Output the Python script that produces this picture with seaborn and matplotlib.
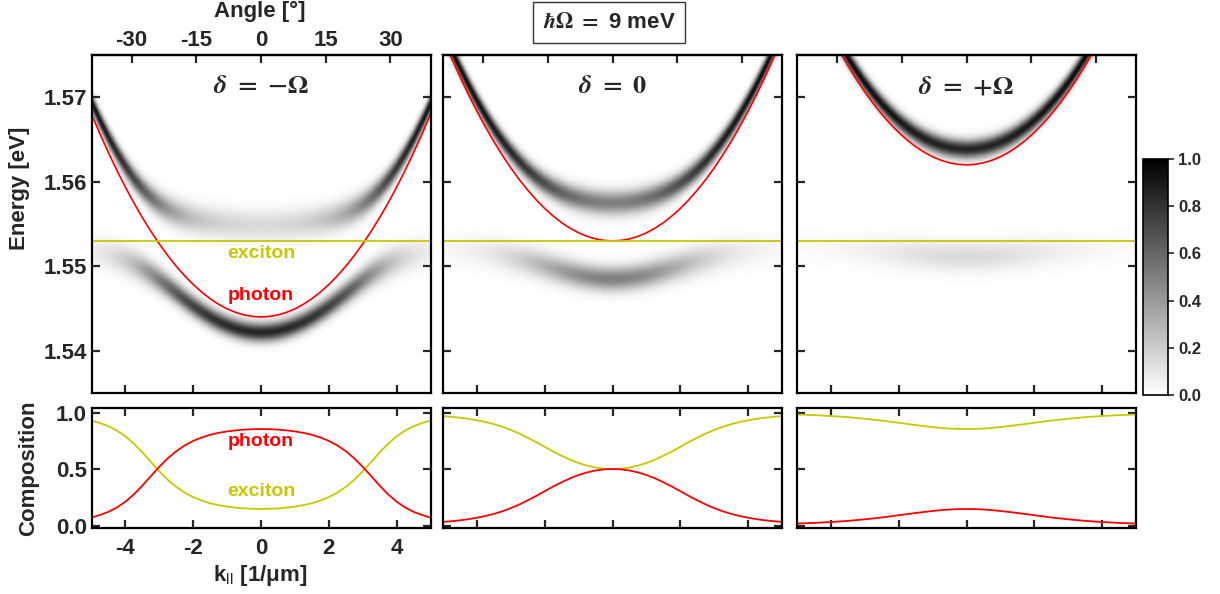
import numpy as np
import matplotlib
matplotlib.use("Agg")
import matplotlib.pyplot as plt
import seaborn as sns

# ---------------- data ----------------
# k grid (1/um) for the right half; all curves are symmetric in k
k_half = [0.0, 0.25, 0.5, 0.75, 1.0, 1.25, 1.5, 1.75, 2.0, 2.25, 2.5,
          2.75, 3.0, 3.25, 3.5, 3.75, 4.0, 4.25, 4.5, 4.75, 5.0]
E_exciton = 1.553  # eV
panel_titles = [r"$\mathbfit{\delta}\ \mathbf{=}\ \mathbf{-\Omega}$",
                r"$\mathbfit{\delta}\ \mathbf{=}\ \mathbf{0}$",
                r"$\mathbfit{\delta}\ \mathbf{=}\ \mathbf{+\Omega}$"]

# photon (cavity) dispersion, eV
photon_neg = [1.54400, 1.54406, 1.54424, 1.54454, 1.54496, 1.54550, 1.54616, 1.54694, 1.54784, 1.54886, 1.55000,
              1.55126, 1.55264, 1.55414, 1.55576, 1.55750, 1.55936, 1.56134, 1.56344, 1.56566, 1.56800]
photon_zero = [1.55300, 1.55306, 1.55324, 1.55354, 1.55396, 1.55450, 1.55516, 1.55594, 1.55684, 1.55786, 1.55900,
               1.56026, 1.56164, 1.56314, 1.56476, 1.56650, 1.56836, 1.57034, 1.57244, 1.57466, 1.57700]
photon_pos = [1.56200, 1.56206, 1.56224, 1.56254, 1.56296, 1.56350, 1.56416, 1.56494, 1.56584, 1.56686, 1.56800,
              1.56926, 1.57064, 1.57214, 1.57376, 1.57550, 1.57736, 1.57934, 1.58144, 1.58366, 1.58600]

# lower / upper polariton branches, eV
lp_neg = [1.54214, 1.54219, 1.54234, 1.54259, 1.54295, 1.54339, 1.54393, 1.54455, 1.54523, 1.54598, 1.54676,
          1.54755, 1.54832, 1.54903, 1.54967, 1.55022, 1.55067, 1.55104, 1.55133, 1.55156, 1.55175]
up_neg = [1.55486, 1.55487, 1.55490, 1.55495, 1.55501, 1.55511, 1.55523, 1.55540, 1.55561, 1.55588, 1.55624,
          1.55671, 1.55732, 1.55811, 1.55909, 1.56028, 1.56169, 1.56331, 1.56511, 1.56710, 1.56925]
lp_zero = [1.54850, 1.54853, 1.54862, 1.54876, 1.54895, 1.54919, 1.54945, 1.54974, 1.55003, 1.55032, 1.55059,
           1.55085, 1.55108, 1.55129, 1.55148, 1.55164, 1.55178, 1.55190, 1.55201, 1.55210, 1.55218]
up_zero = [1.55750, 1.55753, 1.55762, 1.55778, 1.55801, 1.55831, 1.55871, 1.55920, 1.55981, 1.56054, 1.56141,
           1.56241, 1.56356, 1.56485, 1.56628, 1.56786, 1.56958, 1.57144, 1.57343, 1.57556, 1.57782]
lp_pos = [1.55114, 1.55115, 1.55117, 1.55121, 1.55127, 1.55134, 1.55141, 1.55149, 1.55158, 1.55167, 1.55175,
          1.55184, 1.55192, 1.55200, 1.55207, 1.55213, 1.55220, 1.55225, 1.55231, 1.55235, 1.55240]
up_pos = [1.56386, 1.56392, 1.56407, 1.56433, 1.56469, 1.56516, 1.56575, 1.56645, 1.56726, 1.56819, 1.56925,
          1.57042, 1.57172, 1.57315, 1.57469, 1.57637, 1.57817, 1.58009, 1.58214, 1.58431, 1.58610]

# photon fraction of the lower polariton (composition panels)
phot_frac_neg = [0.854, 0.852, 0.849, 0.842, 0.833, 0.820, 0.803, 0.779, 0.749, 0.709, 0.658,
                 0.595, 0.520, 0.437, 0.353, 0.276, 0.211, 0.160, 0.121, 0.093, 0.071]
phot_frac_zero = [0.500, 0.497, 0.487, 0.470, 0.447, 0.418, 0.383, 0.345, 0.304, 0.262, 0.223,
                  0.186, 0.154, 0.126, 0.103, 0.084, 0.069, 0.056, 0.046, 0.038, 0.032]
phot_frac_pos = [0.146, 0.145, 0.142, 0.136, 0.129, 0.120, 0.111, 0.101, 0.091, 0.081, 0.071,
                 0.063, 0.055, 0.048, 0.041, 0.036, 0.031, 0.027, 0.023, 0.020, 0.018]

angle_ticks = [-30, -15, 0, 15, 30]
k_per_15deg = 1.91
energy_ticks = [1.54, 1.55, 1.56, 1.57]
k_ticks = [-4, -2, 0, 2, 4]
comp_ticks = [0.0, 0.5, 1.0]
cbar_ticks = [0.0, 0.2, 0.4, 0.6, 0.8, 1.0]


def mirror(v, neg=False):
    v = np.asarray(v, float)
    left = -v[::-1][:-1] if neg else v[::-1][:-1]
    return np.concatenate([left, v])


k_full = mirror(k_half, neg=True)
panels = [
    (photon_neg, lp_neg, up_neg, phot_frac_neg),
    (photon_zero, lp_zero, up_zero, phot_frac_zero),
    (photon_pos, lp_pos, up_pos, phot_frac_pos),
]

# ---------------- style ----------------
sns.set_style("ticks")
plt.rcParams["font.family"] = ["Liberation Sans", "DejaVu Sans"]
plt.rcParams.update({
    "font.weight": "bold",
    "mathtext.fontset": "stix",
    "axes.linewidth": 1.6,
    "xtick.direction": "in", "ytick.direction": "in",
    "xtick.major.width": 1.6, "ytick.major.width": 1.6,
    "xtick.major.size": 5.5, "ytick.major.size": 5.5,
    "axes.edgecolor": "black",
})

RED = "#ff0000"
YEL = "#c8c800"
FS = 16
W, H = 1220, 594
fig = plt.figure(figsize=(W / 100, H / 100), dpi=100)

lefts = [91.5, 443, 797]
pw = 339
top_y0, top_y1 = 55, 393
bot_y0, bot_y1 = 408, 528

kk = np.linspace(-5, 5, 400)
EE = np.linspace(1.535, 1.575, 400)
sig_c, sig_x = 0.00068, 0.0013

for i, (ph, lp, up, cf) in enumerate(panels):
    ph_f, lp_f, up_f, cf_f = mirror(ph), mirror(lp), mirror(up), mirror(cf)
    ax = fig.add_axes([lefts[i] / W, 1 - top_y1 / H, pw / W, (top_y1 - top_y0) / H])
    axb = fig.add_axes([lefts[i] / W, 1 - bot_y1 / H, pw / W, (bot_y1 - bot_y0) / H])

    # spectral image built from the branches
    lpk = np.interp(kk, k_full, lp_f)
    upk = np.interp(kk, k_full, up_f)
    ck = np.interp(kk, k_full, cf_f)
    s_lp = ck * sig_c + (1 - ck) * sig_x
    s_up = (1 - ck) * sig_c + ck * sig_x
    img = (ck * np.exp(-0.5 * ((EE[:, None] - lpk[None, :]) / s_lp[None, :]) ** 2)
           + (1 - ck) * np.exp(-0.5 * ((EE[:, None] - upk[None, :]) / s_up[None, :]) ** 2))
    img = np.clip(img, 0, 1)
    im = ax.imshow(img, extent=[-5, 5, 1.535, 1.575], origin="lower", aspect="auto",
                   cmap="gray_r", vmin=0, vmax=1, interpolation="bilinear")

    sns.lineplot(x=k_full, y=ph_f, ax=ax, color=RED, lw=1.2, sort=False, legend=False)
    sns.lineplot(x=k_full, y=np.full_like(k_full, E_exciton), ax=ax, color=YEL, lw=1.3,
                 sort=False, legend=False)
    ax.set_xlim(-5, 5)
    ax.set_ylim(1.535, 1.575)
    ax.set_xticks(k_ticks)
    ax.set_yticks(energy_ticks)
    ax.tick_params(top=False, right=True, labelbottom=False, labelsize=FS)
    if i > 0:
        ax.tick_params(labelleft=False)
    else:
        ax.set_yticklabels([f"{v:.2f}" for v in energy_ticks])
    sec = ax.secondary_xaxis("top", functions=(lambda k: k * 15 / k_per_15deg,
                                                lambda a: a * k_per_15deg / 15))
    sec.set_xticks(angle_ticks)
    sec.tick_params(direction="in", length=5.5, width=1.6, labelsize=FS, pad=3)
    if i == 0:
        sec.set_xticklabels([str(a) for a in angle_ticks])
    else:
        sec.set_xticklabels([])
    sec.spines["top"].set_linewidth(1.6)
    ax.text(0, 1.5713, panel_titles[i], ha="center", va="center", fontsize=19)
    if i == 0:
        ax.text(0, 1.5515, "exciton", color=YEL, ha="center", va="center", fontsize=14,
                fontweight="bold")
        ax.text(0, 1.5465, "photon", color=RED, ha="center", va="center", fontsize=14,
                fontweight="bold")
    ax.set_xlabel("")
    ax.set_ylabel("")

    # composition
    sns.lineplot(x=k_full, y=1 - cf_f, ax=axb, color=YEL, lw=1.3, sort=False, legend=False)
    sns.lineplot(x=k_full, y=cf_f, ax=axb, color=RED, lw=1.3, sort=False, legend=False)
    axb.set_xlim(-5, 5)
    axb.set_ylim(-0.022, 1.04)
    axb.set_xticks(k_ticks)
    axb.set_yticks(comp_ticks)
    axb.tick_params(top=True, right=True, labelsize=FS)
    axb.tick_params(axis="x", pad=7)
    axb.set_xlabel("")
    axb.set_ylabel("")
    if i == 0:
        axb.set_yticklabels([f"{v:.1f}" for v in comp_ticks])
        axb.set_xticklabels([str(v) for v in k_ticks])
        axb.text(0, 0.74, "photon", color=RED, ha="center", va="center", fontsize=14,
                 fontweight="bold")
        axb.text(0, 0.30, "exciton", color=YEL, ha="center", va="center", fontsize=14,
                 fontweight="bold")
    else:
        axb.tick_params(labelleft=False, labelbottom=False)

# colorbar
cax = fig.add_axes([1143 / W, 1 - 395 / H, 25 / W, 236 / H])
cb = fig.colorbar(im, cax=cax)
cb.set_ticks(cbar_ticks)
cb.set_ticklabels([f"{v:.1f}" for v in cbar_ticks])
cax.tick_params(direction="out", length=4, width=1.2, labelsize=12)
cb.outline.set_linewidth(1.2)

# labels
fig.text(260 / W, 1 - 11 / H, "Angle [°]", ha="center", va="center",
         fontsize=FS, fontweight="bold")
fig.text(20 / W, 1 - 188 / H, "Energy [eV]", rotation=90, ha="center", va="center",
         fontsize=FS, fontweight="bold")
fig.text(29 / W, 1 - 468 / H, "Composition", rotation=90, ha="center", va="center",
         fontsize=FS, fontweight="bold")
fig.text(260 / W, 1 - 576 / H, r"k$_{||}$ [1/μm]", ha="center", va="center",
         fontsize=FS, fontweight="bold")
fig.text(609 / W, 1 - 22 / H, r"$\hbar\mathbf{\Omega}\ \mathbf{=}$ 9 meV", ha="center", va="center",
         fontsize=16, fontweight="bold",
         bbox=dict(boxstyle="square,pad=0.45", facecolor="white", edgecolor="#333333", lw=1.0))

fig.savefig("out.png", dpi=100)
